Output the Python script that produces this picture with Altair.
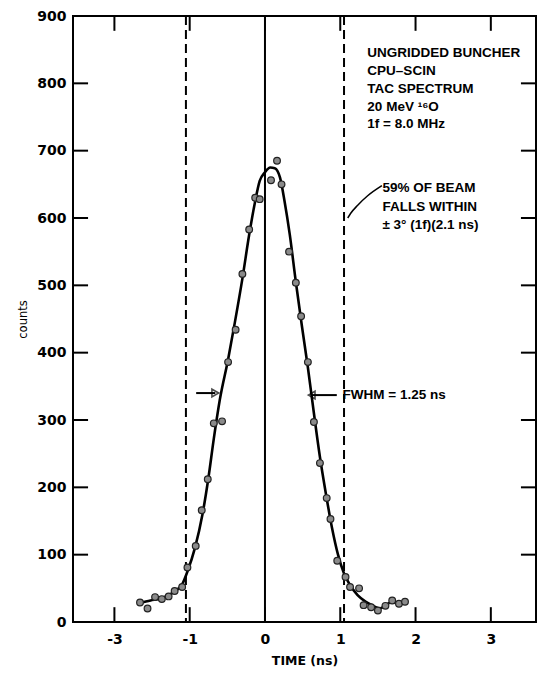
import altair as alt
import pandas as pd

# ---- data ----
pt_time = [-1.66, -1.56, -1.46, -1.37, -1.28, -1.20, -1.10, -1.03, -0.92, -0.84,
           -0.76, -0.68, -0.57, -0.49, -0.39, -0.30, -0.21, -0.13, -0.07, 0.08,
           0.16, 0.22, 0.32, 0.41, 0.48, 0.57, 0.65, 0.73, 0.82, 0.87,
           0.96, 1.07, 1.13, 1.25, 1.31, 1.41, 1.50, 1.60, 1.69, 1.78, 1.86]
pt_counts = [29, 20, 37, 34, 38, 46, 52, 81, 113, 166,
             212, 295, 298, 386, 434, 517, 583, 630, 628, 656,
             685, 650, 550, 504, 454, 386, 297, 236, 184, 153,
             91, 67, 52, 50, 25, 22, 17, 24, 32, 27, 30]

fit_time = [-1.67, -1.52, -1.39, -1.28, -1.19, -1.10, -1.03, -0.93, -0.83, -0.75,
            -0.68, -0.60, -0.49, -0.40, -0.30, -0.21, -0.13, -0.07, 0.00, 0.07,
            0.13, 0.20, 0.26, 0.33, 0.41, 0.49, 0.57, 0.65, 0.73, 0.81,
            0.89, 0.97, 1.05, 1.13, 1.23, 1.34, 1.44, 1.52, 1.60, 1.68, 1.77, 1.87]
fit_counts = [28, 32, 35, 40, 46, 56, 75, 110, 160, 215,
              272, 330, 390, 445, 510, 575, 625, 655, 668, 675,
              674, 660, 625, 575, 505, 440, 378, 310, 245, 190,
              140, 100, 72, 55, 40, 30, 24, 20, 24, 30, 27, 30]

window_edges = [-1.05, 1.05]
center_line = [0]

x_tick_values = [-2, -1, 0, 1, 2, 3]
x_tick_labels = ["-3", "-1", "0", "1", "2", "3"]
y_tick_values = [0, 100, 200, 300, 400, 500, 600, 700, 800, 900]
inner_y_ticks = [100, 200, 300, 400, 500, 600, 700, 800]

XMIN, XMAX = -2.55, 3.6
YMIN, YMAX = 0, 900
XTICK_LEN = 0.2     # in ns
YTICK_LEN = 22      # in counts

info_lines = ["UNGRIDDED BUNCHER", "CPU–SCIN", "TAC SPECTRUM", "20 MeV ¹⁶O", "1f = 8.0 MHz"]
info_y = [845, 818, 791, 765, 739]
info_x = 1.36
beam_lines = ["59% OF BEAM", "FALLS WITHIN", "± 3° (1f)(2.1 ns)"]
beam_y = [645, 617, 589]
beam_x = 1.56
leader_t = [1.553, 1.364, 1.232, 1.139, 1.099]
leader_c = [648, 633, 619, 607, 600]
fwhm_text = "FWHM = 1.25 ns"
fwhm_x = 1.03
fwhm_y = 337
arrow_right_shaft = [0.954, 0.62]
arrow_left_shaft = [-0.914, -0.66]

# ---- build ----
label_expr = " : ".join(
    [f"datum.value == {v} ? '{l}'" for v, l in zip(x_tick_values, x_tick_labels)]
) + " : datum.label"

xscale = alt.Scale(domain=[XMIN, XMAX], nice=False, zero=False)
yscale = alt.Scale(domain=[YMIN, YMAX], nice=False)
xaxis = alt.Axis(values=x_tick_values, labelExpr=label_expr, ticks=False, tickSize=0,
                 domain=False, grid=False, labelPadding=10, labelFontSize=14,
                 labelFont="DejaVu Sans", labelFontWeight="bold",
                 titleFont="DejaVu Sans", titleFontWeight="bold", titleFontSize=12.5,
                 titlePadding=8, labelColor="black", titleColor="black")
yaxis = alt.Axis(values=y_tick_values, ticks=False, tickSize=0, domain=False, grid=False,
                 labelPadding=7, labelFontSize=14, labelFont="DejaVu Sans",
                 labelFontWeight="bold", titleFont="DejaVu Sans", titleFontWeight="normal",
                 titleFontSize=11.5, titlePadding=8, labelColor="black", titleColor="black")


def X(field, **kw):
    return alt.X(field, type="quantitative", scale=xscale, axis=xaxis, title="TIME (ns)", **kw)


def Y(field, **kw):
    return alt.Y(field, type="quantitative", scale=yscale, axis=yaxis, title="counts", **kw)


pts = pd.DataFrame({"t": pt_time, "c": pt_counts})
fit = pd.DataFrame({"t": fit_time, "c": fit_counts})

bottom_ticks = pd.DataFrame({"t": x_tick_values, "c": [YMIN] * 6, "c2": [YMIN + YTICK_LEN] * 6})
top_ticks = pd.DataFrame({"t": x_tick_values, "c": [YMAX] * 6, "c2": [YMAX - YTICK_LEN] * 6})
left_ticks = pd.DataFrame({"c": inner_y_ticks, "t": [XMIN] * 8, "t2": [XMIN + XTICK_LEN] * 8})
right_ticks = pd.DataFrame({"c": inner_y_ticks, "t": [XMAX] * 8, "t2": [XMAX - XTICK_LEN] * 8})

tick_style = dict(color="black", strokeWidth=2)
xticks_layer = alt.layer(
    alt.Chart(bottom_ticks).mark_rule(**tick_style).encode(x=X("t"), y=Y("c"), y2="c2"),
    alt.Chart(top_ticks).mark_rule(**tick_style).encode(x=X("t"), y=Y("c"), y2="c2"),
    alt.Chart(left_ticks).mark_rule(**tick_style).encode(x=X("t"), x2="t2", y=Y("c")),
    alt.Chart(right_ticks).mark_rule(**tick_style).encode(x=X("t"), x2="t2", y=Y("c")),
)

center = alt.Chart(pd.DataFrame({"t": center_line})).mark_rule(
    color="black", strokeWidth=2).encode(x=X("t"))
dashed = alt.Chart(pd.DataFrame({"t": window_edges})).mark_rule(
    color="black", strokeWidth=2, strokeDash=[9, 5]).encode(x=X("t"))

curve = alt.Chart(fit).mark_line(color="black", strokeWidth=2.6, interpolate="monotone").encode(
    x=X("t"), y=Y("c"))
points = alt.Chart(pts).mark_point(shape="circle", filled=True, size=45, fill="#8a8a8a",
                                   stroke="#222", strokeWidth=1.2, opacity=1).encode(
    x=X("t"), y=Y("c"))

txt_style = dict(font="Liberation Sans", fontWeight="bold", fontSize=13.5, align="left",
                 baseline="middle", color="black")
info = alt.Chart(pd.DataFrame({"t": [info_x] * len(info_lines), "c": info_y, "s": info_lines})
                 ).mark_text(**txt_style).encode(x=X("t"), y=Y("c"), text="s:N")
beam = alt.Chart(pd.DataFrame({"t": [beam_x] * len(beam_lines), "c": beam_y, "s": beam_lines})
                 ).mark_text(**txt_style).encode(x=X("t"), y=Y("c"), text="s:N")
leader = alt.Chart(pd.DataFrame({"t": leader_t, "c": leader_c})).mark_line(
    color="black", strokeWidth=1.5, interpolate="monotone").encode(x=X("t"), y=Y("c"))
fwhm = alt.Chart(pd.DataFrame({"t": [fwhm_x], "c": [fwhm_y], "s": [fwhm_text]})
                 ).mark_text(**txt_style).encode(x=X("t"), y=Y("c"), text="s:N")

arrows_df = pd.DataFrame({
    "t": [arrow_right_shaft[0], arrow_left_shaft[0]],
    "t2": [arrow_right_shaft[1], arrow_left_shaft[1]],
    "c": [fwhm_y, fwhm_y + 3],
})
shafts = alt.Chart(arrows_df).mark_rule(color="black", strokeWidth=2).encode(
    x=X("t"), x2="t2", y=Y("c"))
head_r = alt.Chart(pd.DataFrame({"t": [arrow_right_shaft[1]], "c": [fwhm_y]})).mark_point(
    shape="triangle-left", size=60, filled=False, color="black", strokeWidth=1.6).encode(
    x=X("t"), y=Y("c"))
head_l = alt.Chart(pd.DataFrame({"t": [arrow_left_shaft[1]], "c": [fwhm_y + 3]})).mark_point(
    shape="triangle-right", size=60, filled=False, color="black", strokeWidth=1.6).encode(
    x=X("t"), y=Y("c"))

chart = alt.layer(
    xticks_layer, center, dashed, curve, points, info, beam, leader, fwhm, shafts, head_r, head_l
).properties(
    width=463, height=606,
    autosize=alt.AutoSizeParams(type="none"),
    padding={"left": 73, "top": 16, "right": 3, "bottom": 52},
    background="white",
).configure_view(stroke="black", strokeWidth=2)

chart.save("out.html", embed_options={"renderer": "svg", "actions": False})
